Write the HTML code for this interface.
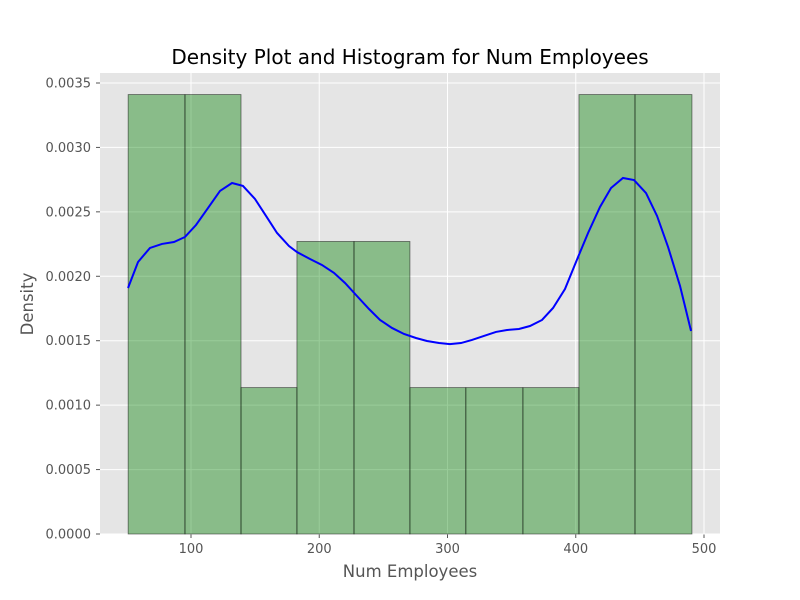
<!DOCTYPE html>
<html><head><meta charset="utf-8"><style>
body{margin:0;background:#fff;}
svg{display:block;font-family:"DejaVu Sans","Liberation Sans",sans-serif;}
</style></head><body>
<svg id="chart" width="800" height="600"></svg>
<script>
const binEdges=[51,95.3,139,182.6,227.1,270.7,314.3,358.8,402.5,446.2,490.6];
const binHeights=[0.00341,0.00341,0.001136,0.00227,0.00227,0.001136,0.001136,0.001136,0.00341,0.00341];
const kdeX=[50.9,58.7,68.0,77.4,86.7,95.3,103.9,113.3,122.6,132.0,140.5,149.9,158.5,167.1,176.4,182.6,192.8,202.1,211.5,220.1,229.4,238.8,247.4,256.7,266.1,275.4,284.0,293.4,301.9,310.5,319.1,328.4,337.8,346.4,355.7,364.3,373.7,382.3,391.6,400.2,409.6,418.9,427.5,436.8,445.4,454.8,463.4,472.0,481.3,489.9];
const kdeY=[1.909,2.111,2.220,2.251,2.266,2.305,2.398,2.530,2.662,2.724,2.701,2.600,2.468,2.336,2.235,2.188,2.134,2.088,2.026,1.948,1.847,1.746,1.661,1.599,1.552,1.521,1.498,1.482,1.474,1.482,1.506,1.537,1.568,1.583,1.591,1.614,1.661,1.754,1.901,2.111,2.336,2.538,2.685,2.763,2.747,2.646,2.468,2.227,1.925,1.575].map(v=>v/1000);
const xTicks=[100,200,300,400,500];
const yTicks=[0,0.0005,0.001,0.0015,0.002,0.0025,0.003,0.0035];
const xs=v=>62.75+v*1.2825;
const ys=v=>534-v*128860;
const svg=document.getElementById('chart');
const NS='http://www.w3.org/2000/svg';
function mk(t,a,p){const e=document.createElementNS(NS,t);for(const k in a)e.setAttribute(k,a[k]);(p||svg).appendChild(e);return e;}
const bg=mk('rect',{x:100,y:73,width:620,height:461,fill:'#e5e5e5'});


xTicks.forEach(t=>{
  const l=mk('line',{x1:xs(t),x2:xs(t),y1:73,y2:534,stroke:'#fff','stroke-width':1});
  
  
  mk('line',{x1:xs(t),x2:xs(t),y1:534,y2:538,stroke:'#555'});
  const tx=mk('text',{x:xs(t),y:553,'text-anchor':'middle','font-size':13,fill:'#555'});
  tx.textContent=t;
  
  
});
yTicks.forEach(t=>{
  const l=mk('line',{x1:100,x2:720,y1:ys(t),y2:ys(t),stroke:'#fff','stroke-width':1});
  
  
  mk('line',{x1:96,x2:100,y1:ys(t),y2:ys(t),stroke:'#555'});
  const tx=mk('text',{x:91,y:ys(t)+4.5,'text-anchor':'end','font-size':13,fill:'#555'});
  tx.textContent=t.toFixed(4);
  
  
});
binHeights.forEach((h,i)=>{
  const r=mk('rect',{x:xs(binEdges[i]),y:ys(h),width:xs(binEdges[i+1])-xs(binEdges[i]),height:ys(0)-ys(h),fill:'rgba(0,128,0,0.4)',stroke:'rgba(0,0,0,0.55)','stroke-width':0.8});
  
  
});
const path=mk('polyline',{points:kdeX.map((x,i)=>xs(x)+','+ys(kdeY[i])).join(' '),fill:'none',stroke:'#0000ff','stroke-width':2});


const title=mk('text',{x:410,y:64,'text-anchor':'middle','font-size':20,fill:'#000'});
title.textContent='Density Plot and Histogram for Num Employees';


const xl=mk('text',{x:410,y:577,'text-anchor':'middle','font-size':16.5,fill:'#555'});
xl.textContent='Num Employees';


const yl=mk('text',{x:33,y:304,'text-anchor':'middle','font-size':16.5,fill:'#555',transform:'rotate(-90 33 304)'});
yl.textContent='Density';


</script>
</body></html>
